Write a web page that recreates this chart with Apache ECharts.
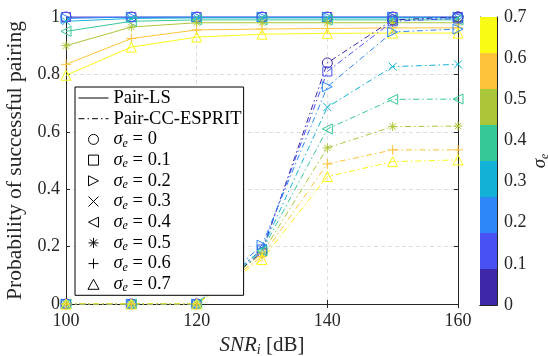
<!DOCTYPE html>
<html>
<head>
<meta charset="utf-8">
<script src="https://cdn.jsdelivr.net/npm/echarts@6/dist/echarts.min.js"></script>
<style>
  html, body { margin: 0; background: #fff; }
  #chart { width: 548px; height: 356px; }
</style>
</head>
<body>
<div id="chart"></div>
<script>
// values
const snr = [100, 110, 120, 130, 140, 150, 160];
const sigmas = [0, 0.1, 0.2, 0.3, 0.4, 0.5, 0.6, 0.7];

const pairLS = [
  [1, 1, 1, 1, 1, 1, 1],
  [1, 1, 1, 1, 1, 1, 1],
  [0.995, 1, 1, 1, 1, 1, 1],
  [0.985, 0.995, 0.997, 0.997, 0.997, 0.997, 0.997],
  [0.95, 0.985, 0.99, 0.99, 0.99, 0.99, 0.99],
  [0.9, 0.965, 0.98, 0.98, 0.98, 0.98, 0.98],
  [0.835, 0.925, 0.955, 0.958, 0.96, 0.962, 0.962],
  [0.797, 0.895, 0.93, 0.94, 0.943, 0.944, 0.944],
];

const pairCC = [
  [0, 0, 0, 0.18, 0.84, 0.99, 1],
  [0, 0, 0, 0.19, 0.81, 0.985, 0.995],
  [0, 0, 0, 0.205, 0.757, 0.948, 0.958],
  [0, 0, 0, 0.19, 0.686, 0.827, 0.835],
  [0, 0, 0, 0.185, 0.61, 0.713, 0.714],
  [0, 0, 0, 0.175, 0.544, 0.618, 0.62],
  [0, 0, 0, 0.165, 0.488, 0.537, 0.537],
  [0, 0, 0, 0.155, 0.444, 0.496, 0.502],
];

// colorbar: 8 bands over 0..0.7
const cbEdges = [0, 0.0875, 0.175, 0.2625, 0.35, 0.4375, 0.525, 0.6125, 0.7];

// parula(8)
const colors = ["#3e26a8", "#4852f4", "#2e87f7", "#12b1d6", "#37c897", "#abc739", "#fec338", "#f9fb15"];
const markers = [
  "circle",
  "path://M0,0L10,0L10,10L0,10Z",
  "path://M0,0L10,5L0,10Z",
  "path://M0,0L10,10M10,0L0,10",
  "path://M10,0L0,5L10,10Z",
  "path://M5,0L5,10M0,5L10,5M1.5,1.5L8.5,8.5M8.5,1.5L1.5,8.5",
  "path://M5,0L5,10M0,5L10,5",
  "path://M5,0L10,9L0,9Z",
];
const markerSizes = [10, 9, 10, 8, 10, 9, 10, 10];
const dashDot = [6, 3, 1.5, 3];

const font = "Liberation Serif";
const axisColor = "#262626";

function curve(values, i, dashed) {
  return {
    type: "line",
    name: (dashed ? "cc" : "ls") + i,
    xAxisIndex: 0,
    yAxisIndex: 0,
    data: snr.map((x, j) => [x, values[j]]),
    symbol: markers[i],
    symbolSize: markerSizes[i],
    lineStyle: { color: colors[i], width: 1, type: dashed ? dashDot : "solid" },
    itemStyle: { color: "none", borderColor: colors[i], borderWidth: 1 },
    emphasis: { disabled: true },
  };
}

const sub = { fontFamily: font, fontSize: 12, fontStyle: "italic", lineHeight: 8, verticalAlign: "bottom" };

const chart = echarts.init(document.getElementById("chart"));

chart.setOption({
  animation: false,
  grid: [
    { left: 66, right: 90, top: 17, bottom: 52, outerBoundsMode: "none", containLabel: false },
    { left: 480, right: 51, top: 17, bottom: 51, outerBoundsMode: "none", containLabel: false },
  ],
  legend: {
    orient: "vertical",
    left: 75,
    top: 87,
    padding: [1, 2, 1, 3],
    itemGap: 0.7,
    itemWidth: 30,
    itemHeight: 10,
    borderColor: "#000",
    borderWidth: 1,
    backgroundColor: "#fff",
    selectedMode: false,
    textStyle: {
      fontFamily: font,
      fontSize: 18.5,
      lineHeight: 20,
      color: "#000",
      rich: {
        s: { fontFamily: font, fontSize: 18.5, fontStyle: "italic", lineHeight: 20 },
        e: sub,
        t: { fontFamily: font, fontSize: 18.5, lineHeight: 20 },
      },
    },
    formatter: function (name) {
      if (name.charAt(0) !== "s") return name;
      return "{s|σ}{e|e}{t| = " + sigmas[+name.slice(1)] + "}";
    },
    data: [
      { name: "Pair-LS", itemStyle: { color: "none", borderColor: "none", borderWidth: 0 }, lineStyle: { color: "#000", width: 1, type: "solid" } },
      { name: "Pair-CC-ESPRIT", itemStyle: { color: "none", borderColor: "none", borderWidth: 0 }, lineStyle: { color: "#000", width: 1, type: dashDot } },
      ...sigmas.map((s, i) => ({
        name: "s" + i,
        icon: markers[i],
        itemStyle: { color: "none", borderColor: "#000", borderWidth: 1 },
      })),
    ],
  },
  xAxis: [
    {
      type: "value", gridIndex: 0, min: 100, max: 160, interval: 20, position: "bottom",
      axisLine: { lineStyle: { color: axisColor } },
      axisTick: { inside: true, length: 4, lineStyle: { color: axisColor } },
      axisLabel: { fontFamily: font, fontSize: 18, color: axisColor, margin: 8 },
      splitLine: { lineStyle: { color: "#dedede", type: [4, 3] } },
      name: "{i|SNR}{b|i} [dB]",
      nameLocation: "middle",
      nameGap: 29,
      nameTextStyle: {
        fontFamily: font, fontSize: 21, color: axisColor, lineHeight: 22,
        rich: {
          i: { fontFamily: font, fontSize: 21, fontStyle: "italic", lineHeight: 22 },
          b: { fontFamily: font, fontSize: 14, fontStyle: "italic", lineHeight: 8, verticalAlign: "bottom" },
        },
      },
    },
    {
      type: "value", gridIndex: 0, min: 100, max: 160, interval: 20, position: "top",
      axisLine: { lineStyle: { color: axisColor } },
      axisTick: { inside: true, length: 4, lineStyle: { color: axisColor } },
      axisLabel: { show: false },
      splitLine: { show: false },
    },
    {
      type: "category", gridIndex: 1, data: ["cb"], position: "bottom",
      axisLine: { lineStyle: { color: axisColor } },
      axisTick: { show: false }, axisLabel: { show: false },
    },
    {
      type: "category", gridIndex: 1, data: ["cb"], position: "top",
      axisLine: { lineStyle: { color: axisColor } },
      axisTick: { show: false }, axisLabel: { show: false },
    },
  ],
  yAxis: [
    {
      type: "value", gridIndex: 0, min: 0, max: 1, interval: 0.2, position: "left",
      axisLine: { show: true, lineStyle: { color: axisColor } },
      axisTick: { show: true, inside: true, length: 4, lineStyle: { color: axisColor } },
      axisLabel: { fontFamily: font, fontSize: 18, color: axisColor, margin: 6 },
      splitLine: { lineStyle: { color: "#dedede", type: [4, 3] } },
      name: "Probability of successful pairing",
      nameLocation: "middle",
      nameGap: 34,
      nameTextStyle: { fontFamily: font, fontSize: 21.5, color: axisColor },
    },
    {
      type: "value", gridIndex: 0, min: 0, max: 1, interval: 0.2, position: "right",
      axisLine: { show: true, lineStyle: { color: axisColor } },
      axisTick: { show: true, inside: true, length: 4, lineStyle: { color: axisColor } },
      axisLabel: { show: false },
      splitLine: { show: false },
    },
    {
      type: "value", gridIndex: 1, min: 0, max: 0.7, interval: 0.1, position: "right",
      axisLine: { show: true, lineStyle: { color: axisColor } },
      axisTick: { show: true, inside: true, length: 3, lineStyle: { color: axisColor } },
      axisLabel: { fontFamily: font, fontSize: 18, color: axisColor, margin: 7 },
      splitLine: { show: false },
      name: "{s|σ}{e|e}",
      nameLocation: "middle",
      nameGap: 33,
      nameRotate: 90,
      nameTextStyle: {
        fontFamily: font, fontSize: 19, color: axisColor, lineHeight: 20,
        rich: {
          s: { fontFamily: font, fontSize: 19, fontStyle: "italic", lineHeight: 20 },
          e: sub,
        },
      },
    },
    {
      type: "value", gridIndex: 1, min: 0, max: 0.7, position: "left",
      axisLine: { show: true, lineStyle: { color: axisColor } },
      axisTick: { show: false }, axisLabel: { show: false }, splitLine: { show: false },
    },
  ],
  series: [
    // legend-only entries
    { type: "line", name: "Pair-LS", data: [], symbol: "none", lineStyle: { color: "#000", width: 1 } },
    { type: "line", name: "Pair-CC-ESPRIT", data: [], symbol: "none", lineStyle: { color: "#000", width: 1, type: dashDot } },
    ...sigmas.map((s, i) => ({ type: "line", name: "s" + i, data: [], symbol: markers[i], itemStyle: { color: "#000" } })),
    // curves
    ...pairLS.map((v, i) => curve(v, i, false)),
    ...pairCC.map((v, i) => curve(v, i, true)),
    // colorbar bands
    ...colors.map((c, i) => ({
      type: "bar",
      name: "cb" + i,
      xAxisIndex: 2,
      yAxisIndex: 2,
      stack: "cb",
      barWidth: "100%",
      data: [cbEdges[i + 1] - cbEdges[i]],
      itemStyle: { color: c },
      emphasis: { disabled: true },
      silent: true,
    })),
  ],
});
</script>
</body>
</html>
